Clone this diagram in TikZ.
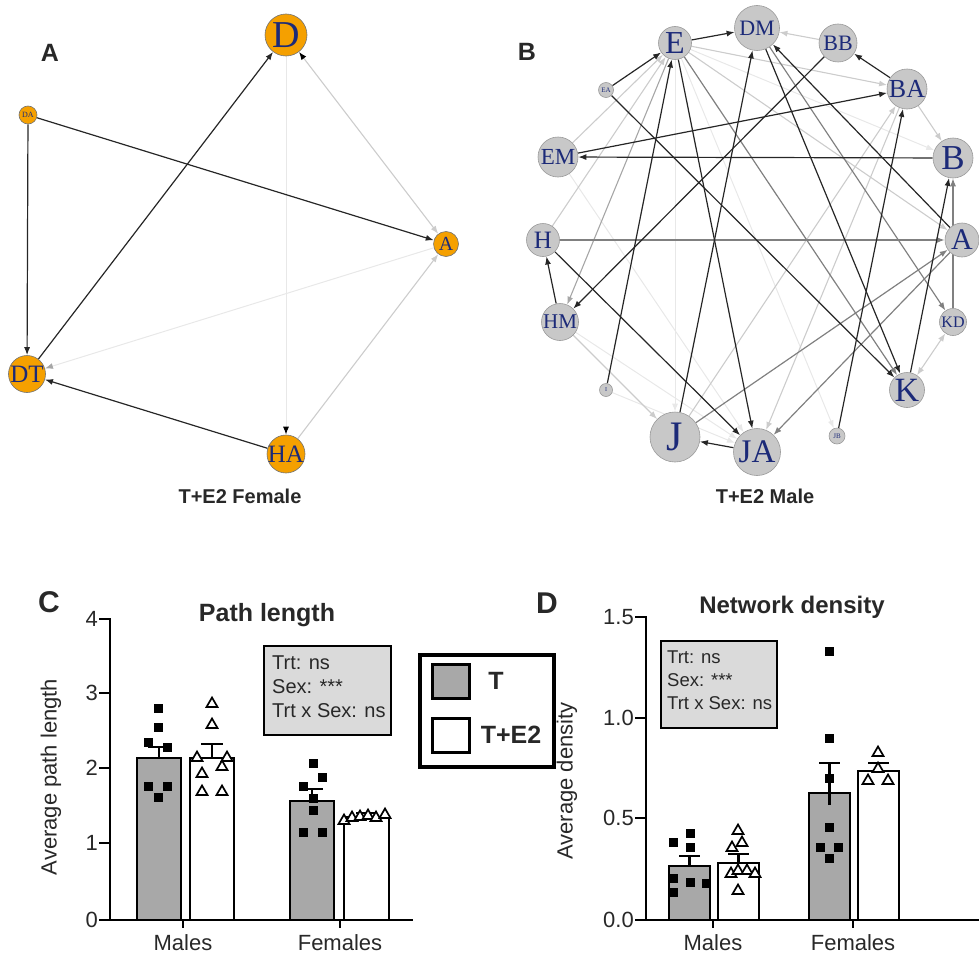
\documentclass[tikz,border=0pt]{standalone}
\usepackage{fontspec}
\setmainfont{Liberation Sans}
\newfontfamily\serifnode{Liberation Serif}
\usetikzlibrary{arrows.meta}
\pgfdeclarelayer{bg}
\pgfsetlayers{bg,main}
\definecolor{navy}{RGB}{28,42,120}
\definecolor{orng}{RGB}{245,160,0}
\definecolor{ngray}{RGB}{200,200,200}
\definecolor{barg}{RGB}{168,168,168}
\definecolor{boxg}{RGB}{218,218,218}
\definecolor{txt}{RGB}{40,40,40}
\newcommand\nfs[1]{\fontsize{#1}{#1}\selectfont\serifnode}
\newcommand\sfs[1]{\fontsize{#1}{#1}\selectfont}
\begin{document}
\begin{tikzpicture}[x=1pt,y=-1pt,
  tip/.style={-{Latex[length=8pt,width=6pt]}},
  nodeA/.style={circle, draw=black!55, line width=0.6pt, fill=orng, inner sep=0pt},
  nodeB/.style={circle, draw=black!40, line width=0.6pt, fill=ngray, inner sep=0pt},
  lbl/.style={text=navy, inner sep=0pt},
  ek/.style={draw=black!85, line width=1.2pt, tip},
  eg/.style={draw=black!50, line width=1.2pt, tip},
  em/.style={draw=black!35, line width=1.1pt, tip},
  el/.style={draw=black!20, line width=1.1pt, tip},
  ev/.style={draw=black!9, line width=1.0pt, tip},
  axis/.style={line width=2.2pt, line cap=rect},
  bar/.style={draw=black, line width=2.8pt},
  tri/.style={fill=white, draw=black, line width=1.7pt, line join=miter},
  sq/.style={fill=black},
  panel/.style={font=\sfs{30}\bfseries, text=txt},
  captxt/.style={font=\sfs{20}\bfseries, text=txt},
  ticklbl/.style={font=\sfs{22}, text=txt, inner sep=0pt},
  axlbl/.style={font=\sfs{22}, text=txt},
  stat/.style={draw=black, fill=boxg, line width=1.8pt, align=left, anchor=north west, text=txt, inner sep=0pt}
]
\useasboundingbox (0,0) rectangle (979,958);

% ---------------- Panel A ----------------
\node[panel, font=\sfs{25}\bfseries] (labA) at (50,53) {A};
\node[nodeA, minimum size=42pt, label={[lbl, font=\nfs{38}]center:D}] (aD) at (286,35) {};
\node[nodeA, minimum size=18pt, label={[lbl, font=\nfs{8}]center:DA}] (aDA) at (28,115) {};
\node[nodeA, minimum size=25pt, label={[lbl, font=\nfs{20}]center:A}] (aA) at (446,244) {};
\node[nodeA, minimum size=37pt, label={[lbl, font=\nfs{25}]center:DT}] (aDT) at (27,374) {};
\node[nodeA, minimum size=38pt, label={[lbl, font=\nfs{25}]center:HA}] (aHA) at (286,454) {};
\node[captxt] (capA) at (240,496) {T+E2 Female};

\begin{pgfonlayer}{bg}
\draw[ev, -{Latex[length=8pt,width=6pt,black!35]}] (aA) -- (aDT);
\draw[ev, -{Latex[length=8pt,width=6pt,black]}] (aD) -- (aHA);
\draw[el] (aHA) -- (aA);
\draw[el, {Latex[length=8pt,width=6pt,black]}-{Latex[length=8pt,width=6pt,black!20]}] (aD) -- (aA);
\draw[ek] (aDA) -- (aDT);
\draw[ek] (aDA) -- (aA);
\draw[ek] (aDT) -- (aD);
\draw[ek] (aHA) -- (aDT);
\end{pgfonlayer}

% ---------------- Panel B ----------------
\node[panel, font=\sfs{25}\bfseries] (labB) at (527,52) {B};
\node[nodeB, minimum size=33pt, label={[lbl, font=\nfs{32}]center:E}] (bE) at (675,43) {};
\node[nodeB, minimum size=45pt, label={[lbl, font=\nfs{22}]center:DM}] (bDM) at (757,28) {};
\node[nodeB, minimum size=38pt, label={[lbl, font=\nfs{22}]center:BB}] (bBB) at (838,43) {};
\node[nodeB, minimum size=40pt, label={[lbl, font=\nfs{26}]center:BA}] (bBA) at (907,89) {};
\node[nodeB, minimum size=40pt, label={[lbl, font=\nfs{35}]center:B}] (bB) at (953,158) {};
\node[nodeB, minimum size=34pt, label={[lbl, font=\nfs{30}]center:A}] (bA) at (962,240) {};
\node[nodeB, minimum size=27pt, label={[lbl, font=\nfs{16}]center:KD}] (bKD) at (953,322) {};
\node[nodeB, minimum size=35pt, label={[lbl, font=\nfs{34}]center:K}] (bK) at (907,390) {};
\node[nodeB, minimum size=16pt, label={[lbl, font=\nfs{7}]center:JB}] (bJB) at (837,436) {};
\node[nodeB, minimum size=47pt, label={[lbl, font=\nfs{33}]center:JA}] (bJA) at (757,452) {};
\node[nodeB, minimum size=50pt, label={[lbl, font=\nfs{42}]center:J}] (bJ) at (675,437) {};
\node[nodeB, minimum size=13pt, label={[lbl, font=\nfs{6}]center:I}] (bI) at (606,390) {};
\node[nodeB, minimum size=37pt, label={[lbl, font=\nfs{21}]center:HM}] (bHM) at (560,322) {};
\node[nodeB, minimum size=33pt, label={[lbl, font=\nfs{25}]center:H}] (bH) at (543,240) {};
\node[nodeB, minimum size=40pt, label={[lbl, font=\nfs{23}]center:EM}] (bEM) at (558,157) {};
\node[nodeB, minimum size=15pt, label={[lbl, font=\nfs{7}]center:EA}] (bEA) at (606,90) {};
\node[captxt] (capB) at (765,496) {T+E2 Male};

\begin{pgfonlayer}{bg}
% very light
\draw[ev] (bE) -- (bJ);
\draw[ev] (bHM) -- (bJA);
\draw[ev] (bEM) -- (bJA);
\draw[ev] (bE) -- (bJB);
\draw[ev] (bE) -- (bB);
\draw[ev] (bI) -- (bJA);
% light
\draw[el] (bEM) -- (bE);
\draw[el] (bH) -- (bE);
\draw[el] (bBB) -- (bDM);
\draw[el] (bBA) -- (bB);
\draw[el, {Latex[length=8pt,width=6pt]}-{Latex[length=8pt,width=6pt]}] (bKD) -- (bK);
\draw[el] (bHM) -- (bJ);
\draw[el] (bJ) -- (bBA);
\draw[el] (bBA) -- (bJA);
\draw[el] (bE) -- (bA);
\draw[el] (bE) -- (bBA);
% medium gray
\draw[em] (bE) -- (bHM);
\draw[eg] (bH) -- (bA);
\draw[eg] (bKD) -- (bB);
\draw[eg] (bJ) -- (bA);
\draw[eg] (bA) -- (bJA);
\draw[eg] (bDM) -- (bKD);
\draw[eg] (bE) -- (bK);
% black
\draw[ek] (bEA) -- (bE);
\draw[ek] (bE) -- (bDM);
\draw[ek] (bEA) -- (bK);
\draw[ek] (bB) -- (bEM);
\draw[ek] (bEM) -- (bBA);
\draw[ek] (bI) -- (bE);
\draw[ek] (bE) -- (bJA);
\draw[ek] (bJ) -- (bDM);
\draw[ek] (bDM) -- (bK);
\draw[ek] (bA) -- (bDM);
\draw[ek] (bBB) -- (bHM);
\draw[ek] (bJB) -- (bBA);
\draw[ek] (bBA) -- (bBB);
\draw[ek] (bK) -- (bB);
\draw[ek] (bHM) -- (bH);
\draw[ek] (bH) -- (bJA);
\draw[ek] (bJA) -- (bJ);
\end{pgfonlayer}

% ---------------- Panel C ----------------
\node[panel] (labC) at (49,602) {C};
\node[font=\sfs{25}\bfseries, text=txt] (titC) at (267,615) {Path length};
\node[axlbl, rotate=90] (ylC) at (51,777) {Average path length};
% bars
\draw[bar, fill=barg] (137,920) rectangle (181,758);
\draw[bar, fill=white] (190,920) rectangle (234,758);
\draw[bar, fill=barg] (290,920) rectangle (334,801);
\draw[bar, fill=white] (344,920) rectangle (389,817);
% error bars
\draw[axis, line cap=butt] (159,758) -- (159,747) (148,747) -- (170,747);
\draw[axis, line cap=butt] (212,758) -- (212,744) (201,744) -- (223,744);
\draw[axis, line cap=butt] (312,801) -- (312,789) (301,789) -- (323,789);
\draw[axis, line cap=butt] (356,813) -- (377,813);
% axes
\draw[axis] (110,619) -- (110,920) -- (412,920);
\foreach \v/\yy in {4/619,3/693,2/768,1/843,0/920}{
  \draw[axis] (100,\yy) -- (110,\yy);
  \node[ticklbl, anchor=east] (tc\v) at (98,\yy) {\v};
}
\draw[axis] (183,920) -- (183,927);
\draw[axis] (340,920) -- (340,927);
\node[axlbl] (xcM) at (183,943) {Males};
\node[axlbl] (xcF) at (340,943) {Females};
% points
\foreach \x/\y in {158/708,158/727,148/742,167/747,148/786,167/786,158/797,
                   313/763,322/777,303/786,313/798,313/810,303/832,322/832}
  \fill[sq] (\x-4.5,\y-4.5) rectangle (\x+4.5,\y+4.5);
\foreach \x/\y in {212/703,212/724,197/757,227/757,202/773,222/766,202/791,222/791,
                   344/820,352/817,360/816,368/815,376/817,385/814}
  \draw[tri] (\x,\y-5.5) -- (\x+5.5,\y+4) -- (\x-5.5,\y+4) -- cycle;
% stats box
\node[stat, minimum width=127pt, minimum height=89pt] (stC) at (263,645) {};
\node[anchor=north west, font=\fontsize{20}{24}\selectfont, text=txt, align=left, inner sep=0pt] (stCt) at (272,656)
  {Trt: ns\\Sex: ***\\Trt x Sex: ns};

% ---------------- Legend ----------------
\node[draw=black, line width=4pt, fill=white, minimum width=134pt, minimum height=112pt, anchor=north west, inner sep=0pt] (leg) at (418,653) {};
\draw[line width=3pt, fill=barg] (432,664) rectangle (469,698);
\draw[line width=3pt, fill=white] (432,718) rectangle (469,752);
\node[font=\sfs{25}\bfseries, text=txt] (legT) at (496,681) {T};
\node[font=\sfs{25}\bfseries, text=txt] (legTE) at (511,735) {T+E2};

% ---------------- Panel D ----------------
\node[panel] (labD) at (547,603) {D};
\node[font=\sfs{24}\bfseries, text=txt] (titD) at (792,607) {Network density};
\node[axlbl, rotate=90] (ylD) at (567,781) {Average density};
% bars
\draw[bar, fill=barg] (669,920) rectangle (710,866);
\draw[bar, fill=white] (718,920) rectangle (759,863);
\draw[bar, fill=barg] (809,920) rectangle (850,793);
\draw[bar, fill=white] (858,920) rectangle (899,771);
% error bars
\draw[axis, line cap=butt] (689.5,866) -- (689.5,856) (679,856) -- (700,856);
\draw[axis, line cap=butt] (738.5,863) -- (738.5,854) (728,854) -- (749,854);
\draw[axis, line cap=butt] (829.5,805) -- (829.5,763) (819,763) -- (840,763);
\draw[axis, line cap=butt] (878.5,771) -- (878.5,763) (868,763) -- (889,763);
% axes
\draw[axis] (646,617) -- (646,920) -- (979,920);
\foreach \v/\yy/\nm in {1.5/617/a,1.0/718/b,0.5/818/c,0.0/920/d}{
  \draw[axis] (636,\yy) -- (646,\yy);
  \node[ticklbl, anchor=east] (td\nm) at (634,\yy) {\v};
}
\draw[axis] (713,920) -- (713,927);
\draw[axis] (853,920) -- (853,927);
\node[axlbl] (xdM) at (713,943) {Males};
\node[axlbl] (xdF) at (853,943) {Females};
% points
\foreach \x/\y in {673/842,690/833,690/847,673/878,690/882,706/883,673/892,
                   829/651,829/738,829/778,829/827,820/847,838/847,829/858}
  \fill[sq] (\x-4.5,\y-4.5) rectangle (\x+4.5,\y+4.5);
\foreach \x/\y in {738/830,742/842,732/847,731/873,738/870,747/870,755/873,738/890,
                   878/752,878/768,868/780,888/780}
  \draw[tri] (\x,\y-5.5) -- (\x+5.5,\y+4) -- (\x-5.5,\y+4) -- cycle;
% stats box
\node[stat, minimum width=116pt, minimum height=87pt] (stD) at (660,640) {};
\node[anchor=north west, font=\fontsize{18.5}{23}\selectfont, text=txt, align=left, inner sep=0pt] (stDt) at (667,651)
  {Trt: ns\\Sex: ***\\Trt x Sex: ns};
\end{tikzpicture}
\end{document}
